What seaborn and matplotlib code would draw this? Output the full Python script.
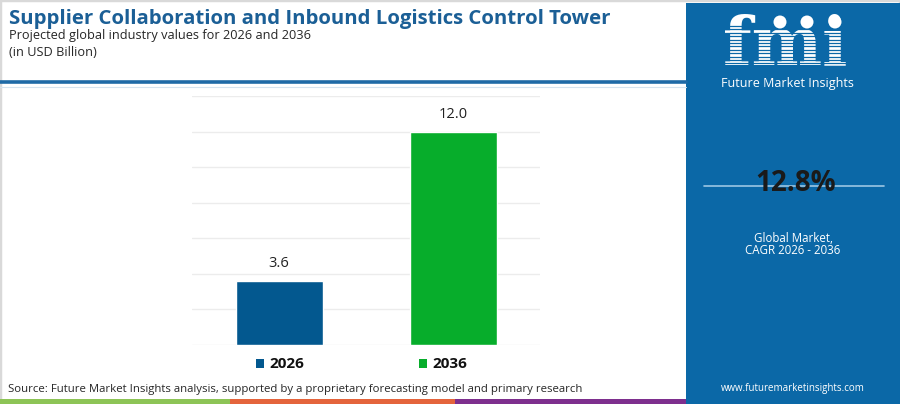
import numpy as np
import pandas as pd
import seaborn as sns
import matplotlib.pyplot as plt
from matplotlib.patches import Rectangle, Ellipse
from matplotlib.lines import Line2D

# datos
years = ['2026', '2036']
values = [3.6, 12.0]
bar_colors = ['#03588f', '#07ad2b']
cagr = '12.8%'

W, H = 900, 404


def fx(px):
    return px / W


def fy(py):
    return 1 - py / H


sns.set_style('white')
plt.rcParams['font.family'] = ['Open Sans', 'DejaVu Sans']

fig = plt.figure(figsize=(9, 4.04), dpi=100)
fig.patch.set_facecolor('white')

# bordes y franjas
fig.add_artist(Rectangle((0, fy(404)), 1, fy(0) - fy(404), transform=fig.transFigure,
                         fill=False, edgecolor='#d9d9d9', linewidth=2.5))
fig.add_artist(Line2D([fx(0), fx(686)], [fy(82), fy(82)], transform=fig.transFigure,
                      color='#1f6aa6', linewidth=2.6))
fig.add_artist(Line2D([fx(0), fx(686)], [fy(86.5), fy(86.5)], transform=fig.transFigure,
                      color='#d5e4ef', linewidth=0.8))
strip = [(0, 230, '#8dc456'), (230, 455, '#e4643c'), (455, 686, '#7e2f8e')]
for x0, x1, c in strip:
    fig.add_artist(Rectangle((fx(x0), 0), fx(x1 - x0), fy(399), transform=fig.transFigure,
                             color=c, linewidth=0))

# panel derecho
fig.add_artist(Rectangle((fx(686), 0), fx(900 - 686), fy(3), transform=fig.transFigure,
                         color='#0b68a7', linewidth=0))

# titulos
fig.text(fx(9), fy(19), 'Supplier Collaboration and Inbound Logistics Control Tower',
         fontsize=14.7, fontweight='bold', color='#1b5f96', va='center', ha='left')
fig.text(fx(9), fy(35), 'Projected global industry values for 2026 and 2036',
         fontsize=9.2, color='#262626', va='center', ha='left')
fig.text(fx(9), fy(53), '(in USD Billion)',
         fontsize=9.2, color='#262626', va='center', ha='left')

# grafico
ax = fig.add_axes([fx(192), fy(345), fx(540 - 192), fy(96) - fy(345)])
df = pd.DataFrame({'year': years, 'value': values})
sns.barplot(data=df, x='year', y='value', hue='year', palette=bar_colors,
            width=0.5, legend=False, ax=ax, saturation=1)
ax.set_ylim(0, 14)
ax.set_xlim(-0.5, 1.5)
ax.set_yticks(np.arange(0, 15, 2))
ax.yaxis.grid(True, color='#ececec', linewidth=1)
ax.set_axisbelow(True)
ax.set_xticks([])
ax.set_yticklabels([])
ax.tick_params(left=False, bottom=False)
ax.set_xlabel('')
ax.set_ylabel('')
for s in ax.spines.values():
    s.set_visible(False)
for i, v in enumerate(values):
    ax.text(i, v + 0.55, f'{v:.1f}', ha='center', va='bottom', fontsize=10.5, color='#222222')

# leyenda
leg_pos = [(256, 269), (419, 432)]
for (sq, tx), yr, c in zip(leg_pos, years, bar_colors):
    fig.add_artist(Rectangle((fx(sq), fy(368)), fx(8), fy(359) - fy(368), transform=fig.transFigure,
                             color=c, linewidth=0))
    fig.text(fx(tx), fy(363.5), yr, fontsize=11, fontweight='bold', color='#111111',
             va='center', ha='left')

fig.text(fx(8), fy(389.5),
         'Source: Future Market Insights analysis, supported by a proprietary forecasting model and primary research',
         fontsize=8.2, color='#262626', va='center', ha='left')

# logo
fig.text(fx(785), fy(46), 'fmi', fontsize=48, fontweight='bold', color='white',
         ha='center', va='center', family=['DejaVu Serif'])
for yy in np.arange(26, 70, 3.4):
    fig.add_artist(Line2D([fx(716), fx(860)], [fy(yy), fy(yy)], transform=fig.transFigure,
                          color='#0b68a7', linewidth=0.9, zorder=5))
for cx in [780, 807, 835]:
    fig.add_artist(Ellipse((fx(cx), fy(22)), fx(13), 13 / H, transform=fig.transFigure,
                           color='white', linewidth=0, zorder=6))
fig.text(fx(787), fy(84), 'Future Market Insights', fontsize=9.0, color='white',
         ha='center', va='center')

fig.add_artist(Line2D([fx(704), fx(884)], [fy(186), fy(186)], transform=fig.transFigure,
                      color='#9cc6e4', linewidth=1.2))
fig.text(fx(796), fy(184), cagr, fontsize=20, fontweight='bold', color='#1a1a1a',
         ha='center', va='center')
fig.text(fx(793), fy(238), 'Global Market,', fontsize=8.3, color='white', ha='center', va='center')
fig.text(fx(793), fy(250), 'CAGR 2026 - 2036', fontsize=8.3, color='white', ha='center', va='center')
fig.text(fx(793), fy(389), 'www.futuremarketinsights.com', fontsize=7, color='white',
         ha='center', va='center')

fig.savefig('out.png', dpi=100)
